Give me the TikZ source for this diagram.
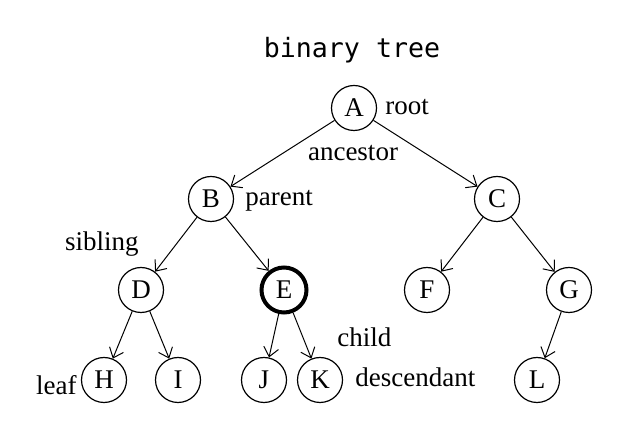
\documentclass[tikz,border=0pt]{standalone}
\usepackage{fontspec}
\setmainfont{Liberation Serif}
\newfontfamily\titlefont{DejaVu Sans Mono}
\usepackage{tikz}
\usetikzlibrary{arrows.meta}

\begin{document}
\begin{tikzpicture}[x=0.5pt,y=-0.5pt,font=\fontsize{13.5}{16}\selectfont]
        \useasboundingbox (0,0) rectangle (631,421);
        \node[font={\titlefont\fontsize{13.3}{16}\selectfont}] (title) at (352,50) {binary tree};
        \begin{scope}[every node/.style={draw,circle,line width=0.6pt,minimum size=22.5pt,inner sep=0pt}]
          \node (a) at (354,108) {A};
          \node (b) at (211,199) {B};
          \node (c) at (497,199) {C};
          \node (d) at (141,290) {D};
          \node[line width=2pt] (e) at (284,290) {E};
          \node (f) at (427,290) {F};
          \node (g) at (569,290) {G};
          \node (h) at (104,380) {H};
          \node (i) at (178,380) {I};
          \node (j) at (264,380) {J};
          \node (k) at (320,380) {K};
          \node (l) at (537,380) {L};
        \end{scope}
        \begin{scope}[every edge/.style={draw=black,line width=0.5pt,-{Straight Barb[length=4.5pt,width=7.5pt]}}]
          \path (a) edge (b);
          \path (a) edge (c);
          \path (b) edge (d);
          \path (b) edge (e);
          \path (c) edge (f);
          \path (c) edge (g);
          \path (d) edge (h);
          \path (d) edge (i);
          \path (e) edge (j);
          \path (e) edge (k);
          \path (g) edge (l);
        \end{scope}
        \begin{scope}[every node/.style={inner sep=0pt}]
          \node[anchor=base west] (root) at (385,115) {root};
          \node[anchor=base] (ancestor) at (353,161) {ancestor};
          \node[anchor=base west] (parent) at (245,206) {parent};
          \node[anchor=base east] (sibling) at (139,251) {sibling};
          \node[anchor=base east] (leaf) at (77,395) {leaf};
          \node[anchor=base west] (child) at (337,347) {child};
          \node[anchor=base west] (descendant) at (355,387) {descendant};
        \end{scope}
      \end{tikzpicture}
\end{document}
